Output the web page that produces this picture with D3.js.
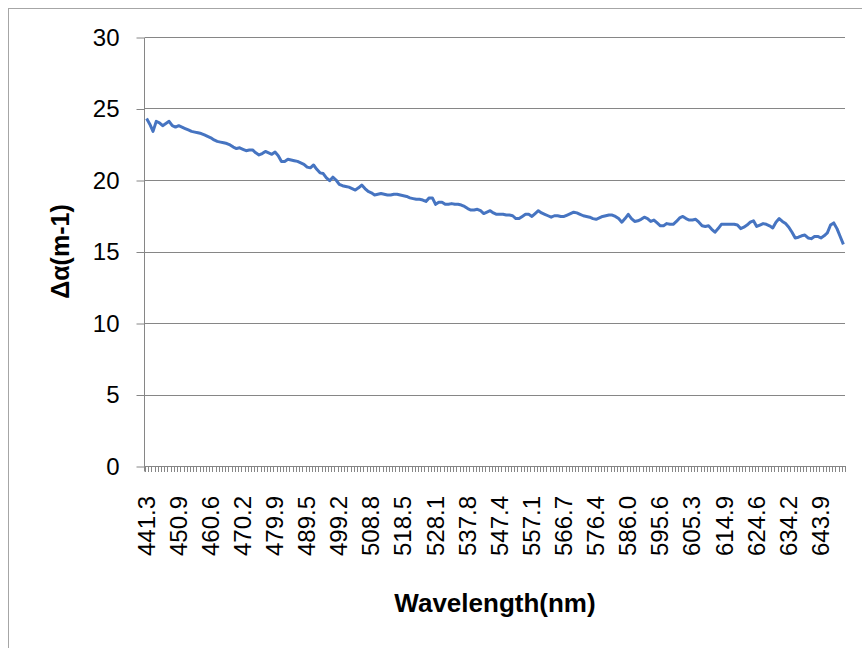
<!DOCTYPE html>
<html>
<head>
<meta charset="utf-8">
<script src="https://cdnjs.cloudflare.com/ajax/libs/d3/7.8.5/d3.min.js"></script>
<style>
  body { margin: 0; background: #fff; }
  svg { display: block; font-family: "Liberation Sans", Arial, sans-serif; }
</style>
</head>
<body>
<div class="canvas"></div>
<script>

// absorption difference per wavelength step
var deltaAlpha = [
  24.3, 23.9, 23.4, 24.1, 24.0, 23.8, 23.95, 24.1, 23.8, 23.7,
  23.8, 23.7, 23.6, 23.5, 23.4, 23.35, 23.3, 23.25, 23.15, 23.05,
  22.95, 22.8, 22.7, 22.65, 22.6, 22.55, 22.45, 22.3, 22.2, 22.25,
  22.15, 22.05, 22.1, 22.1, 21.9, 21.75, 21.85, 22.0, 21.9, 21.8,
  21.95, 21.7, 21.3, 21.3, 21.45, 21.4, 21.35, 21.3, 21.2, 21.1,
  20.9, 20.85, 21.05, 20.75, 20.5, 20.45, 20.15, 19.95, 20.2, 20.0,
  19.7, 19.6, 19.55, 19.5, 19.4, 19.3, 19.45, 19.65, 19.4, 19.2,
  19.1, 18.95, 19.0, 19.05, 19.0, 18.95, 18.95, 19.0, 19.0, 18.95,
  18.9, 18.85, 18.75, 18.7, 18.65, 18.65, 18.6, 18.5, 18.75, 18.75,
  18.3, 18.45, 18.45, 18.3, 18.3, 18.35, 18.3, 18.3, 18.25, 18.15,
  18.0, 17.9, 17.9, 17.95, 17.85, 17.65, 17.75, 17.85, 17.7, 17.6,
  17.6, 17.6, 17.55, 17.55, 17.5, 17.3, 17.3, 17.45, 17.6, 17.6,
  17.45, 17.65, 17.85, 17.7, 17.6, 17.5, 17.4, 17.5, 17.5, 17.45,
  17.45, 17.55, 17.65, 17.75, 17.7, 17.6, 17.5, 17.45, 17.4, 17.3,
  17.25, 17.35, 17.45, 17.5, 17.55, 17.55, 17.45, 17.3, 17.05, 17.3,
  17.6, 17.3, 17.1, 17.15, 17.25, 17.4, 17.3, 17.1, 17.2, 17.0,
  16.8, 16.8, 16.95, 16.9, 16.9, 17.1, 17.35, 17.45, 17.3, 17.2,
  17.2, 17.25, 17.05, 16.8, 16.75, 16.8, 16.55, 16.35, 16.6, 16.9,
  16.9, 16.9, 16.9, 16.9, 16.85, 16.6, 16.7, 16.85, 17.05, 17.15,
  16.75, 16.85, 16.95, 16.9, 16.8, 16.65, 17.05, 17.3, 17.1, 16.95,
  16.7, 16.35, 15.95, 16.0, 16.1, 16.15, 15.95, 15.9, 16.05, 16.05,
  15.95, 16.1, 16.3, 16.85, 17.0, 16.6, 16.05, 15.5
];

// labels shown on every 10th wavelength category
var wavelengthLabels = [
  '441.3', '450.9', '460.6', '470.2', '479.9', '489.5', '499.2', '508.8',
  '518.5', '528.1', '537.8', '547.4', '557.1', '566.7', '576.4', '586.0',
  '595.6', '605.3', '614.9', '624.6', '634.2', '643.9'
];
var labelEvery = 10;

var yTicks = [0, 5, 10, 15, 20, 25, 30];

var canvasFrameWidth = 862;
var canvasFrameHeight = 648;
var plotLeft = 145, plotRight = 845, plotTop = 37, plotBottom = 466;
var axisColor = '#868686';

var canvas = d3.select('.canvas')
                .append('svg')
                  .attr('width', canvasFrameWidth)
                    .attr('height', canvasFrameHeight);

// outer chart border (only top and left edges fall inside the picture)
canvas.append('rect')
        .attr('x', 8.5)
          .attr('y', 8.5)
            .attr('width', 900)
              .attr('height', 700)
                .attr('fill', 'none')
                  .attr('stroke', '#a6a6a6')
                    .attr('stroke-width', 1);

var categories = deltaAlpha.map(function(d, i){ return i; });

var x = d3.scaleBand()
            .domain(categories)
              .range([plotLeft, plotRight]);

var y = d3.scaleLinear()
            .domain([0, 30])
              .range([plotBottom, plotTop]);

// horizontal gridlines
canvas.append('g')
        .selectAll('line')
          .data(yTicks.filter(function(d){ return d > 0; }))
            .enter()
              .append('line')
                .attr('x1', plotLeft)
                  .attr('x2', plotRight)
                    .attr('y1', function(d){ return Math.round(y(d)) + 0.5; })
                      .attr('y2', function(d){ return Math.round(y(d)) + 0.5; })
                        .attr('stroke', axisColor)
                          .attr('stroke-width', 1);

// y axis
var yAxis = canvas.append('g')
                    .attr('transform', 'translate(' + (plotLeft - 0.5) + ',0.5)')
                      .call(d3.axisLeft(y)
                              .tickValues(yTicks)
                                .tickSize(8)
                                  .tickPadding(17));
yAxis.select('.domain').attr('stroke', axisColor).attr('d', 'M0,' + plotTop + 'V' + (plotBottom + 5));
yAxis.selectAll('.tick line').attr('stroke', axisColor);
yAxis.selectAll('.tick text')
       .attr('fill', '#000')
         .style('font-size', '24px');

// x axis line and per-category tick marks
var xAxis = canvas.append('g');
xAxis.append('line')
       .attr('x1', plotLeft)
         .attr('x2', plotRight)
           .attr('y1', Math.round(y(0)) + 0.5)
             .attr('y2', Math.round(y(0)) + 0.5)
               .attr('stroke', axisColor);

var boundaries = categories.concat([categories.length]);
xAxis.selectAll('.ctick')
       .data(boundaries)
         .enter()
           .append('line')
             .attr('class', 'ctick')
               .attr('x1', function(d){ return Math.round(plotLeft + d * x.step()) + 0.5; })
                 .attr('x2', function(d){ return Math.round(plotLeft + d * x.step()) + 0.5; })
                   .attr('y1', Math.round(y(0)))
                     .attr('y2', Math.round(y(0)) + 6)
                       .attr('stroke', axisColor);

xAxis.selectAll('.xlabel')
       .data(wavelengthLabels)
         .enter()
           .append('text')
             .attr('class', 'xlabel')
               .attr('transform', function(d, i){
                 var cx = x(i * labelEvery) + x.bandwidth() / 2;
                 return 'translate(' + (cx + 8) + ',' + 496 + ') rotate(-90)';
               })
                 .attr('text-anchor', 'end')
                   .style('font-size', '24px')
                     .text(function(d){ return d; });

// the series line
var line = d3.line()
              .x(function(d, i){ return x(i) + x.bandwidth() / 2; })
                .y(function(d){ return y(d); });

canvas.append('path')
        .datum(deltaAlpha)
          .attr('d', line)
            .attr('fill', 'none')
              .attr('stroke', '#4674c1')
                .attr('stroke-width', 3)
                  .attr('stroke-linejoin', 'round');

// axis titles
canvas.append('text')
        .attr('x', (plotLeft + plotRight) / 2)
          .attr('y', 612)
            .attr('text-anchor', 'middle')
              .style('font-size', '26px')
                .style('font-weight', 'bold')
                  .text('Wavelength(nm)');

canvas.append('text')
        .attr('transform', 'translate(69,' + ((plotTop + plotBottom) / 2) + ') rotate(-90)')
          .attr('text-anchor', 'middle')
            .style('font-size', '25px')
              .style('font-weight', 'bold')
                .text('Δα(m-1)');

</script>
</body>
</html>
